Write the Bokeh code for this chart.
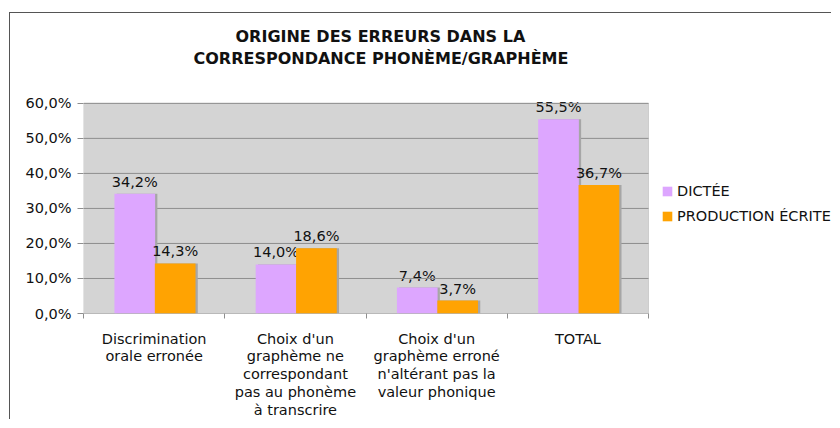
from bokeh.plotting import figure
from bokeh.models import (Range1d, LinearAxis, FixedTicker, ColumnDataSource, LabelSet,
                          Legend, LegendItem, Title, BoxAnnotation)
from bokeh.core.properties import value
from bokeh.transform import dodge
from bokeh.embed import file_html
from bokeh.resources import INLINE

categories = ["Discrimination\norale erronée",
              "Choix d'un\ngraphème ne\ncorrespondant\npas au phonème\nà transcrire",
              "Choix d'un\ngraphème erroné\nn'altérant pas la\nvaleur phonique",
              "TOTAL"]
dictee = [34.2, 14.0, 7.4, 55.5]
production = [14.3, 18.6, 3.7, 36.7]
series_names = ["DICTÉE", "PRODUCTION ÉCRITE"]
y_ticks = [0, 10, 20, 30, 40, 50, 60]
y_tick_labels = ["0,0%", "10,0%", "20,0%", "30,0%", "40,0%", "50,0%", "60,0%"]
title_lines = ["ORIGINE DES ERREURS DANS LA", "CORRESPONDANCE PHONÈME/GRAPHÈME"]

def fmt(v):
    return f"{v:.1f}".replace(".", ",") + "%"

n = len(categories)
ymax = y_ticks[-1]
centers = [i + 0.5 for i in range(n)]
src = ColumnDataSource(dict(
    xc=centers, d=dictee, p=production,
    dl=[fmt(v) for v in dictee], pl=[fmt(v) for v in production],
))
grid_src = ColumnDataSource(dict(y=y_ticks, x0=[0] * len(y_ticks), x1=[n] * len(y_ticks)))

FONT = "DejaVu Sans"
FS = "14.5px"
PINK = "#DDA6FF"
ORANGE = "#FFA302"
SHADOW = "#A6A6A6"
GRID = "#8E8E8E"
TXT = "#111111"

# layout (pixels): plot area 565 x 212, extra room at right for legend and above for labels
WIDTH, HEIGHT = 822, 407
LEFT, BOTTOM, TOP = 73, 105, 75
AREA_W, AREA_H = 565, 212
x_end = n * (WIDTH - LEFT) / AREA_W
y_end = ymax * (HEIGHT - BOTTOM - TOP) / AREA_H

p = figure(width=WIDTH, height=HEIGHT, x_range=Range1d(0, x_end), y_range=Range1d(0, y_end),
           x_axis_location=None, y_axis_location=None,
           output_backend="svg", toolbar_location=None,
           min_border_left=LEFT, min_border_right=0, min_border_top=TOP, min_border_bottom=BOTTOM)
p.styles = {"border-left": "1px solid #555", "border-top": "1px solid #555",
            "margin-left": "9px", "margin-top": "12px"}

p.background_fill_color = "white"
p.border_fill_color = "white"
p.outline_line_color = None
p.xgrid.visible = False
p.ygrid.visible = False

p.add_layout(BoxAnnotation(left=0, right=n, bottom=0, top=ymax, fill_color="#D4D4D4",
                           fill_alpha=1, line_color=GRID, line_width=1, level="underlay"))
p.segment(x0="x0", x1="x1", y0="y", y1="y", source=grid_src, line_color=GRID, line_width=1)

yaxis = LinearAxis(ticker=FixedTicker(ticks=y_ticks), axis_line_color=None,
                   major_tick_line_color=GRID, major_tick_in=0, major_tick_out=6,
                   minor_tick_line_color=None, major_label_standoff=6,
                   major_label_text_font=FONT, major_label_text_font_size=FS,
                   major_label_text_color=TXT)
yaxis.major_label_overrides = {t: l for t, l in zip(y_ticks, y_tick_labels)}
p.add_layout(yaxis, "left")

bounds = list(range(n + 1))
tick_axis = LinearAxis(ticker=FixedTicker(ticks=bounds),
                       axis_line_color=None, major_tick_line_color=GRID, major_tick_in=0,
                       major_tick_out=5, minor_tick_line_color=None,
                       major_label_text_font_size="1px", major_label_standoff=0)
tick_axis.major_label_overrides = {b: " " for b in bounds}
p.add_layout(tick_axis, "below")
cat_axis = LinearAxis(ticker=FixedTicker(ticks=centers), axis_line_color=None,
                      major_tick_line_color=None, minor_tick_line_color=None,
                      major_label_standoff=2, major_label_text_font=FONT,
                      major_label_text_font_size="14.5px", major_label_text_color=TXT,
                      major_label_text_align="center", major_label_text_line_height=1.11)
cat_axis.major_label_overrides = {c: lab for c, lab in zip(centers, categories)}
p.add_layout(cat_axis, "below")

W = 0.288
OD, OP = -0.137, 0.149
SH = 0.016

p.vbar(x=dodge("xc", OD + SH), top="d", width=W, source=src, fill_color=SHADOW, line_color=None)
r_d = p.vbar(x=dodge("xc", OD), top="d", width=W, source=src, fill_color=PINK, line_color=None)
p.add_layout(LabelSet(x=dodge("xc", OD), y="d", text="dl", source=src,
                      text_align="center", text_baseline="alphabetic", y_offset=7,
                      text_font=value(FONT), text_font_size=value(FS), text_color=TXT,
                      level="underlay"))
p.vbar(x=dodge("xc", OP + SH), top="p", width=W, source=src, fill_color=SHADOW, line_color=None)
r_p = p.vbar(x=dodge("xc", OP), top="p", width=W, source=src, fill_color=ORANGE, line_color=None)
p.add_layout(LabelSet(x=dodge("xc", OP), y="p", text="pl", source=src,
                      text_align="center", text_baseline="alphabetic", y_offset=7,
                      text_font=value(FONT), text_font_size=value(FS), text_color=TXT))

legend = Legend(items=[LegendItem(label=series_names[0], renderers=[r_d]),
                       LegendItem(label=series_names[1], renderers=[r_p])],
                location=(578, 89), padding=0, margin=0, spacing=9,
                glyph_width=12, glyph_height=12, label_height=12, label_standoff=4,
                label_text_font=FONT, label_text_font_size="14.5px", label_text_color=TXT,
                border_line_color=None, background_fill_alpha=0)
p.add_layout(legend, "center")

spacer = Title(text=" ", text_font_size="1px", standoff=17)
t2 = Title(text=title_lines[1], align="left", offset=110, text_font=FONT,
           text_font_size="16px", text_font_style="bold", text_color=TXT, standoff=1)
t1 = Title(text=title_lines[0], align="left", offset=152, text_font=FONT,
           text_font_size="16px", text_font_style="bold", text_color=TXT, standoff=1)
p.add_layout(spacer, "above")
p.add_layout(t2, "above")
p.add_layout(t1, "above")

html = file_html(p, INLINE)
open("out.html", "w").write(html)
